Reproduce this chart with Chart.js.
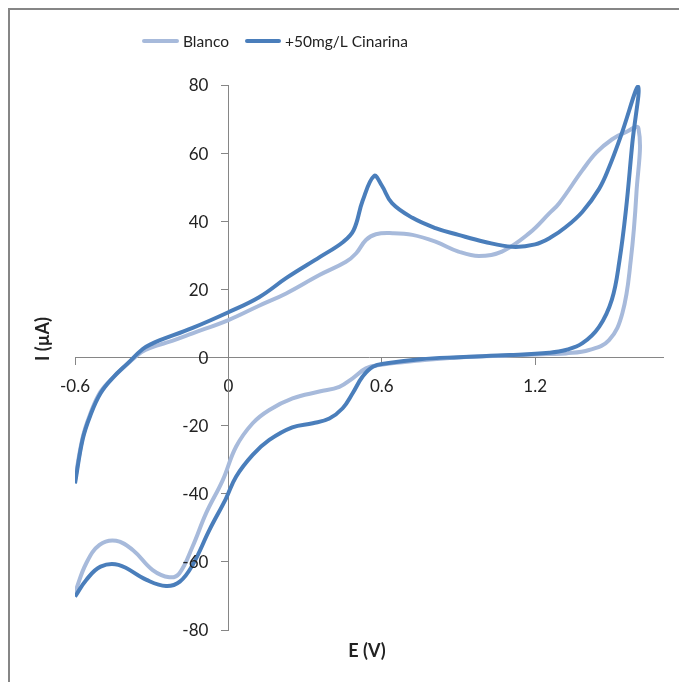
<!DOCTYPE html>
<html>
<head>
<meta charset="utf-8">
<script src="https://cdn.jsdelivr.net/npm/chart.js@4/dist/chart.umd.min.js"></script>
<style>
html,body{margin:0;padding:0;background:#fff;}
canvas{display:block;}
</style>
</head>
<body>
<canvas id="c" width="679" height="682"></canvas>
<script>
// Blanco: potential sweep (E, V) and current (I, µA)
const blancoE = [-0.60,-0.57,-0.54,-0.50,-0.45,-0.395,-0.34,-0.30,-0.22,-0.14,0.0,0.12,0.226,0.356,0.46,0.50,0.538,0.577,0.643,0.72,0.81,0.90,0.98,1.07,1.177,1.255,1.294,1.385,1.44,1.50,1.55,1.604,
  1.596,1.574,1.541,1.489,1.411,1.32,1.255,1.1,0.9,0.747,0.59,0.538,0.486,0.434,0.356,0.251,0.16,0.095,0.03,-0.022,-0.087,-0.14,-0.192,-0.231,-0.296,-0.374,-0.439,-0.504,-0.556,-0.60];
const blancoI = [-36,-23.5,-16.5,-10,-5.8,-1.9,1.6,3.0,4.9,7.1,11.0,15.2,18.8,24.2,28.1,30.6,34.5,36.2,36.5,36.0,34.0,31.1,29.8,31.1,36.5,42.3,45.3,55,60.2,64.0,66.0,67.3,
  48.2,28.6,13.0,5.1,2.2,1.2,1.0,0.6,0.0,-0.9,-2.2,-3.2,-6.1,-8.6,-10.0,-12.0,-15.4,-19.3,-26.2,-36.0,-45.7,-55.5,-63.4,-64.5,-62.4,-56.5,-53.8,-55.0,-60.4,-69];

// +50mg/L Cinarina
const cinarinaE = [-0.60,-0.57,-0.54,-0.50,-0.45,-0.395,-0.335,-0.30,-0.27,-0.14,0.0,0.12,0.23,0.36,0.45,0.49,0.525,0.57,0.60,0.64,0.72,0.81,0.90,1.0,1.11,1.20,1.26,1.32,1.385,1.45,1.49,1.535,1.603,
  1.58,1.555,1.53,1.50,1.45,1.385,1.32,1.255,1.1,0.9,0.75,0.62,0.565,0.525,0.486,0.447,0.395,0.33,0.25,0.16,0.095,0.03,-0.01,-0.074,-0.14,-0.19,-0.244,-0.32,-0.43,-0.50,-0.556,-0.60];
const cinarinaI = [-37,-24,-17,-10.5,-5.8,-1.8,2.5,4.0,5.0,8.7,13.3,17.7,23.5,29.6,34,37.4,46,53.3,50.5,45.3,41.0,38.0,36.0,34.0,32.5,33.2,35.2,38.3,42.8,49.5,56,65,79.5,
  62.9,43.3,28.6,17,9,4.2,2.2,1.4,0.7,0.1,-0.5,-1.7,-2.7,-5.6,-10.5,-14.9,-17.9,-19.3,-20.5,-24.2,-28.6,-35,-41.5,-50.6,-60.9,-65.8,-67.1,-65.3,-60.9,-61.4,-65.3,-70.2];

const seriesNames = ['Blanco', '+50mg/L Cinarina'];
const xTicks = [-0.6, 0, 0.6, 1.2];
const yTicks = [-80, -60, -40, -20, 0, 20, 40, 60, 80];
const xTitle = 'E (V)';
const yTitle = 'I (µA)';

const LIGHT = '#A7BADB';
const DARK = '#4A7EBB';
const AXIS = '#868686';
const TEXT = '#222';
const FONT = 'Lato, "Open Sans", sans-serif';

function toPts(xs, ys) { return xs.map((x, i) => ({x: x, y: ys[i]})); }

const extras = {
  id: 'extras',
  beforeDraw(chart) {
    const ctx = chart.ctx;
    ctx.save();
    ctx.fillStyle = '#fff';
    ctx.fillRect(0, 0, chart.width, chart.height);
    ctx.strokeStyle = AXIS;
    ctx.lineWidth = 2;
    ctx.strokeRect(9, 9, 700, 700);
    ctx.restore();
  },
  afterDraw(chart) {
    const ctx = chart.ctx;
    const xs = chart.scales.x, ys = chart.scales.y;
    ctx.save();
    // y tick labels, left of the y axis (which sits at E = 0)
    ctx.font = '17px ' + FONT;
    ctx.fillStyle = TEXT;
    ctx.textAlign = 'right';
    ctx.textBaseline = 'middle';
    const ax = xs.getPixelForValue(0);
    yTicks.forEach(v => ctx.fillText(String(v), ax - 20, ys.getPixelForValue(v) + 1));
    // legend
    const items = [
      {label: seriesNames[0], color: LIGHT, x0: 144, x1: 177, tx: 183},
      {label: seriesNames[1], color: DARK, x0: 247, x1: 279, tx: 285}
    ];
    ctx.font = '15.5px ' + FONT;
    ctx.textAlign = 'left';
    items.forEach(it => {
      ctx.strokeStyle = it.color;
      ctx.lineWidth = 4;
      ctx.lineCap = 'round';
      ctx.beginPath();
      ctx.moveTo(it.x0, 41);
      ctx.lineTo(it.x1, 41);
      ctx.stroke();
      ctx.fillStyle = TEXT;
      ctx.fillText(it.label, it.tx, 42);
    });
    // axis titles
    ctx.font = 'bold 18px ' + FONT;
    ctx.fillStyle = TEXT;
    ctx.textAlign = 'center';
    ctx.fillText(xTitle, 367, 651);
    ctx.translate(43, 339);
    ctx.rotate(-Math.PI / 2);
    ctx.fillText(yTitle, 0, 0);
    ctx.restore();
  }
};

new Chart(document.getElementById('c'), {
  type: 'scatter',
  data: {
    datasets: [
      {label: seriesNames[0], data: toPts(blancoE, blancoI), borderColor: LIGHT, backgroundColor: LIGHT,
       showLine: true, pointRadius: 0, borderWidth: 4, tension: 0.4, order: 1},
      {label: seriesNames[1], data: toPts(cinarinaE, cinarinaI), borderColor: DARK, backgroundColor: DARK,
       showLine: true, pointRadius: 0, borderWidth: 4, tension: 0.4, order: 0}
    ]
  },
  options: {
    responsive: false,
    animation: false,
    layout: {padding: {left: 75, right: 16, top: 85, bottom: 52}},
    plugins: {legend: {display: false}, tooltip: {enabled: false}},
    scales: {
      x: {
        type: 'linear', min: -0.6, max: 1.7,
        position: {y: 0},
        afterBuildTicks: (s) => { s.ticks = xTicks.map(v => ({value: v})); },
        ticks: {color: TEXT, font: {family: FONT, size: 17}, padding: 12,
                callback: (v) => String(Math.round(v * 10) / 10)},
        grid: {drawOnChartArea: false, drawTicks: true, tickLength: 7, color: AXIS, tickColor: AXIS},
        border: {display: true, color: AXIS, width: 1}
      },
      y: {
        type: 'linear', min: -80, max: 80,
        position: {x: 0},
        afterBuildTicks: (s) => { s.ticks = yTicks.map(v => ({value: v})); },
        ticks: {display: false},
        grid: {drawOnChartArea: false, drawTicks: true, tickLength: 7, color: AXIS, tickColor: AXIS},
        border: {display: true, color: AXIS, width: 1}
      }
    }
  },
  plugins: [extras]
});
</script>
</body>
</html>
